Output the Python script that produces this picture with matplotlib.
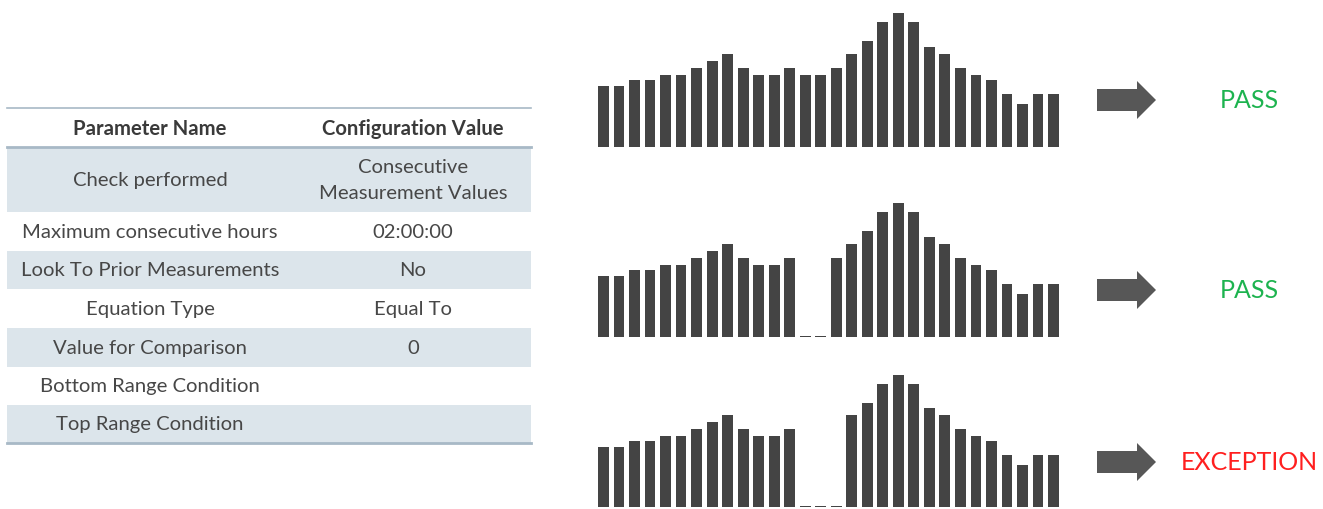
import numpy as np
import matplotlib.pyplot as plt
from matplotlib.patches import Polygon, Rectangle

plt.rcParams['font.family'] = ['Lato', 'DejaVu Sans']

# table content
param_names = ['Check performed', 'Maximum consecutive hours', 'Look To Prior Measurements',
               'Equation Type', 'Value for Comparison', 'Bottom Range Condition', 'Top Range Condition']
config_values = ['Consecutive\nMeasurement Values', '02:00:00', 'No', 'Equal To', '0', '', '']
row_edges = [148, 213, 252, 290, 329, 368, 406, 444]

# bar series (hourly measurements), missing values shown as small dashes
hours = np.arange(30)
series_ok = [61, 61, 67, 67, 72, 72, 79, 86, 93, 79, 72, 72, 79, 72, 72, 79, 93, 106, 125, 134,
             125, 100, 93, 79, 72, 67, 53, 43, 53, 53]
series_gap2 = [61, 61, 67, 67, 72, 72, 79, 86, 93, 79, 72, 72, 79, 1.5, 1.5, 79, 93, 106, 125, 134,
               125, 100, 93, 79, 72, 67, 53, 43, 53, 53]
series_gap3 = [61, 61, 67, 67, 72, 72, 79, 86, 93, 79, 72, 72, 79, 1.5, 1.5, 1.5, 93, 106, 125, 134,
               125, 100, 93, 79, 72, 67, 53, 43, 53, 53]
results = ['PASS', 'PASS', 'EXCEPTION']
result_colors = ['#1db34f', '#1db34f', '#ff1f1f']

W, H = 1323, 510
fig = plt.figure(figsize=(W / 100, H / 100), dpi=100)
bg = fig.add_axes([0, 0, 1, 1])
bg.set_xlim(0, W)
bg.set_ylim(H, 0)
bg.axis('off')

# --- table ---
tx0, tx1 = 7, 531
col1, col2 = 150, 413
fs = 14.6
txt_color = '#474747'
for i in range(len(param_names)):
    y0, y1 = row_edges[i], row_edges[i + 1]
    if i % 2 == 0:
        bg.add_patch(Rectangle((tx0, y0), tx1 - tx0, y1 - y0, color='#dce5eb', lw=0))
    ym = (y0 + y1) / 2
    bg.text(col1, ym, param_names[i], ha='center', va='center', fontsize=fs, color=txt_color)
    bg.text(col2, ym, config_values[i], ha='center', va='center', fontsize=fs, color=txt_color,
            linespacing=1.6)
bg.text(col1, 129, 'Parameter Name', ha='center', va='center', fontsize=fs,
        fontweight='bold', color='#3a3a3a')
bg.text(col2, 129, 'Configuration Value', ha='center', va='center', fontsize=fs,
        fontweight='bold', color='#3a3a3a')
bg.plot([tx0, tx1], [109, 109], color='#a8b9c6', lw=1.2)
bg.plot([tx0, tx1], [148, 148], color='#a8b9c6', lw=2)
bg.plot([tx0, tx1], [444, 444], color='#a8b9c6', lw=2)

# --- bar panels ---
panels = [(series_ok, 148, 14), (series_gap2, 338, 204), (series_gap3, 508, 376)]
bx0, bx1 = 598, 1059
for k, (vals, base, top) in enumerate(panels):
    ax = fig.add_axes([bx0 / W, (H - base) / H, (bx1 - bx0) / W, (base - top) / H])
    ax.bar(hours, vals, width=0.7, color='#444444')
    ax.set_xlim(-0.35, 29.35)
    ax.set_ylim(0, 134)
    ax.axis('off')

    yc = [101, 291, 463][k]
    arrow = [(1097, yc - 11), (1137, yc - 11), (1137, yc - 19), (1156, yc),
             (1137, yc + 19), (1137, yc + 11), (1097, yc + 11)]
    bg.add_patch(Polygon(arrow, closed=True, color='#575757', lw=0))
    bg.text(1249, yc, results[k], ha='center', va='center', fontsize=18, color=result_colors[k])

fig.savefig('out.png', dpi=100)
